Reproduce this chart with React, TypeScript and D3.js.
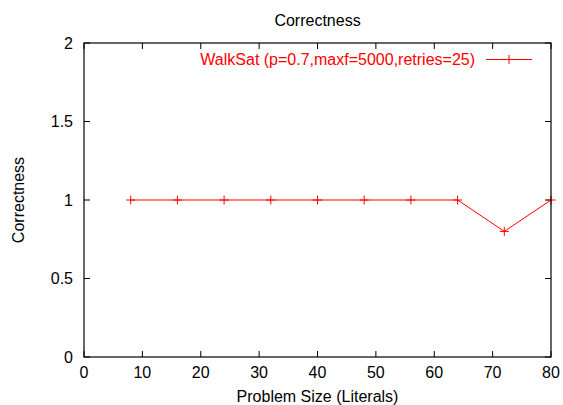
import React from 'react';
import * as d3 from 'd3';

// data
const problemSizes = [8, 16, 24, 32, 40, 48, 56, 64, 72, 80];
const correctness = [1, 1, 1, 1, 1, 1, 1, 1, 0.8, 1];
const xTicks = [0, 10, 20, 30, 40, 50, 60, 70, 80];
const yTicks = [0, 0.5, 1, 1.5, 2];
const seriesName = 'WalkSat (p=0.7,maxf=5000,retries=25)';

const App = () => {
  const width = 563;
  const height = 405;
  const margin = { top: 43, right: 12, bottom: 48, left: 84 };
  const font = 'Liberation Sans, Arial, Helvetica, sans-serif';
  const fs = 16;

  const x = d3.scaleLinear().domain([0, 80]).range([margin.left, width - margin.right]);
  const y = d3.scaleLinear().domain([0, 2]).range([height - margin.bottom, margin.top]);

  const points = problemSizes.map((s, i) => ({ s, c: correctness[i] }));
  const line = d3
    .line<{ s: number; c: number }>()
    .x((d) => x(d.s))
    .y((d) => y(d.c));

  const tick = 6;
  const cross = 4.5;
  const left = x(0);
  const right = x(80);
  const top = y(2);
  const bottom = y(0);
  const midX = (left + right) / 2;

  // legend sample line
  const legY = 59.5;
  const legX0 = 486;
  const legX1 = 532;

  return (
    <svg
      width={width}
      height={height}
      style={{ position: 'absolute', left: 0, top: 0, background: '#fff' }}
      fontFamily={font}
    >
      <text x={midX} y={25.5} textAnchor="middle" fontSize={fs}>
        Correctness
      </text>

      {/* ticks, mirrored on all sides */}
      <g stroke="#000" strokeWidth={1}>
        {xTicks.map((t) => (
          <g key={'x' + t}>
            <line x1={x(t)} x2={x(t)} y1={bottom} y2={bottom - tick} />
            <line x1={x(t)} x2={x(t)} y1={top} y2={top + tick} />
          </g>
        ))}
        {yTicks.map((t) => (
          <g key={'y' + t}>
            <line x1={left} x2={left + tick} y1={y(t)} y2={y(t)} />
            <line x1={right} x2={right - tick} y1={y(t)} y2={y(t)} />
          </g>
        ))}
      </g>

      {xTicks.map((t) => (
        <text key={'xl' + t} x={x(t)} y={bottom + 21} textAnchor="middle" fontSize={fs}>
          {t}
        </text>
      ))}
      {yTicks.map((t) => (
        <text key={'yl' + t} x={left - 11} y={y(t) + 5.5} textAnchor="end" fontSize={fs}>
          {t}
        </text>
      ))}

      <text x={midX} y={401.5} textAnchor="middle" fontSize={fs}>
        Problem Size (Literals)
      </text>
      <text
        transform={`translate(24,${(top + bottom) / 2}) rotate(-90)`}
        textAnchor="middle"
        fontSize={fs}
      >
        Correctness
      </text>

      {/* series */}
      <path d={line(points) || ''} fill="none" stroke="#ff0000" strokeWidth={1} />
      <g stroke="#ff0000" strokeWidth={1}>
        {points.map((d) => (
          <g key={'p' + d.s}>
            <line x1={x(d.s) - cross} x2={x(d.s) + cross} y1={y(d.c)} y2={y(d.c)} />
            <line x1={x(d.s)} x2={x(d.s)} y1={y(d.c) - cross} y2={y(d.c) + cross} />
          </g>
        ))}
      </g>

      {/* legend */}
      <text x={475} y={legY + 5.5} textAnchor="end" fontSize={fs} fill="#ff0000">
        {seriesName}
      </text>
      <g stroke="#ff0000" strokeWidth={1}>
        <line x1={legX0} x2={legX1} y1={legY} y2={legY} />
        <line x1={(legX0 + legX1) / 2 - cross} x2={(legX0 + legX1) / 2 + cross} y1={legY} y2={legY} />
        <line x1={(legX0 + legX1) / 2} x2={(legX0 + legX1) / 2} y1={legY - cross} y2={legY + cross} />
      </g>

      {/* frame */}
      <rect
        x={left}
        y={top}
        width={right - left}
        height={bottom - top}
        fill="none"
        stroke="#000"
        strokeWidth={1.2}
      />
    </svg>
  );
};

export default App;
